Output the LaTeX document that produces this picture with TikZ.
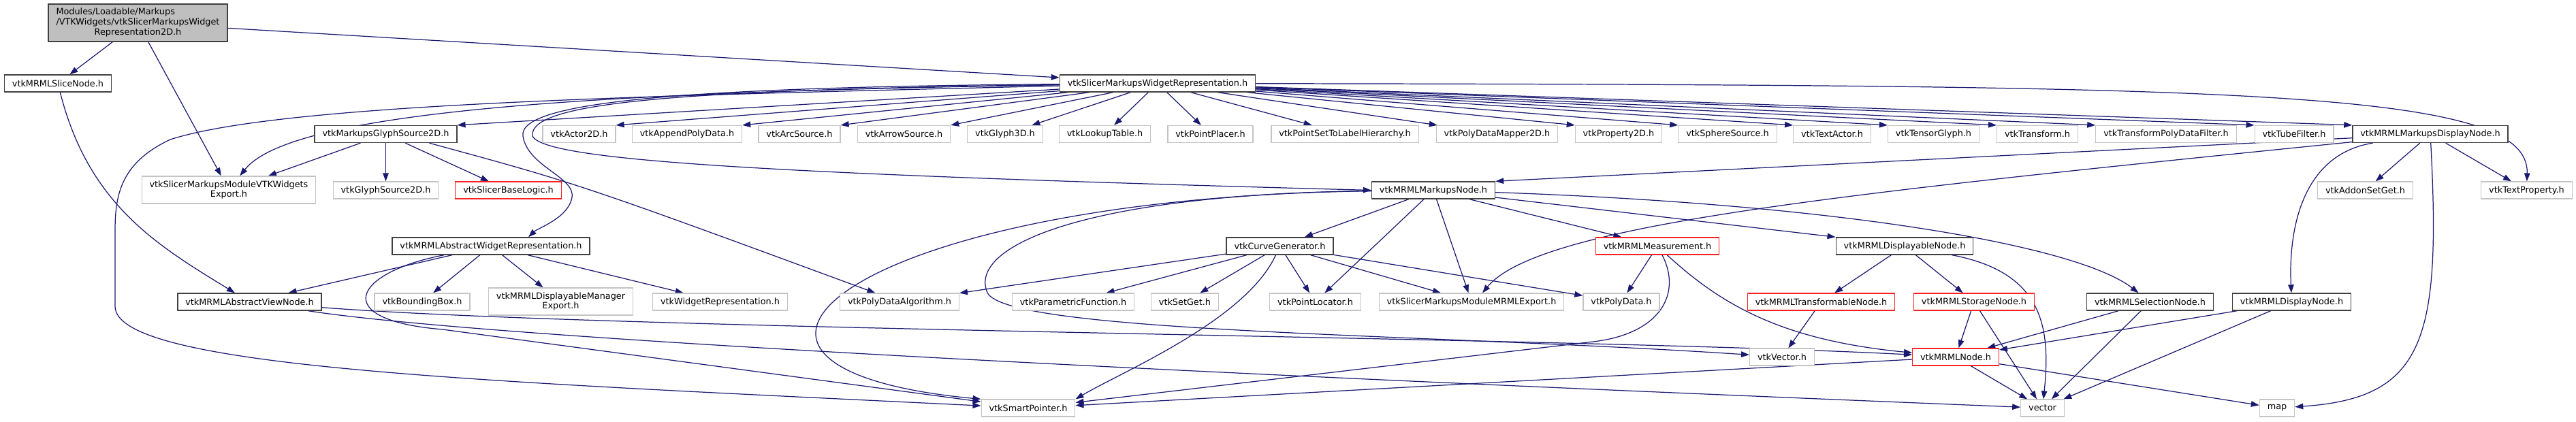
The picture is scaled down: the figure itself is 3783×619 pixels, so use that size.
\documentclass[tikz,border=0pt]{standalone}
\usepackage{fontspec}
\setmainfont{DejaVu Sans}
\usepackage{tikz}
\usetikzlibrary{arrows.meta,backgrounds}
\definecolor{edgeblue}{HTML}{191970}
\definecolor{rootgray}{HTML}{BFBFBF}
\definecolor{extgray}{HTML}{C4C4C4}
\definecolor{incred}{HTML}{FF2020}

\begin{document}
\begin{tikzpicture}[x=0.02cm, y=-0.02cm, font=\fontsize{7.3}{8.4}\selectfont,
  box/.style={fill=white, line width=0.7pt, inner xsep=6.5pt, inner ysep=0pt, minimum height=0.5cm, align=center},
  docbox/.style={box, draw=black!75, line width=0.8pt},
  extbox/.style={box, draw=extgray},
  redbox/.style={box, draw=incred},
  rootbox/.style={box, draw=black!75, line width=0.8pt, fill=rootgray, minimum height=1.1cm},
  inc/.style={draw=edgeblue, line width=0.7pt, -{Triangle[length=0.24cm, width=0.17cm]}}]
  \useasboundingbox (0,0) rectangle (3783,619);

  \node[rootbox] (root) at (202.5,33.5) {\begin{tabular}{@{}l@{}}Modules/Loadable/Markups\\/VTKWidgets/vtkSlicerMarkupsWidget\\\multicolumn{1}{@{}c@{}}{Representation2D.h}\end{tabular}};
  \node[docbox] (slice) at (85,122.5) {vtkMRMLSliceNode.h};
  \node[docbox] (smwr) at (1700,122.5) {vtkSlicerMarkupsWidgetRepresentation.h};

  % row of direct includes
  \node[docbox] (glyph2d) at (566.5,197) {vtkMarkupsGlyphSource2D.h};
  \foreach \n/\x/\t in {actor2d/850.5/vtkActor2D.h, append/1009/vtkAppendPolyData.h,
      arc/1174/vtkArcSource.h, arrow/1327.5/vtkArrowSource.h, glyph3d/1476/vtkGlyph3D.h,
      lut/1622.5/vtkLookupTable.h, placer/1777.5/vtkPointPlacer.h,
      pslh/1975/vtkPointSetToLabelHierarchy.h, pdm2d/2198.5/vtkPolyDataMapper2D.h,
      prop2d/2377/vtkProperty2D.h, sphere/2537/vtkSphereSource.h, textactor/2690.5/vtkTextActor.h,
      tensor/2839.5/vtkTensorGlyph.h, transform/2992/vtkTransform.h,
      tpdf/3181/vtkTransformPolyDataFilter.h, tube/3369/vtkTubeFilter.h}
    \node[extbox] (\n) at (\x,197) {\t};
  \node[docbox] (mdisp) at (3569,197) {vtkMRMLMarkupsDisplayNode.h};

  \node[extbox, minimum height=0.8cm] (vtkwexport) at (336,279) {vtkSlicerMarkupsModuleVTKWidgets\\Export.h};
  \node[extbox] (glyphsrc) at (566.5,279.5) {vtkGlyphSource2D.h};
  \node[redbox] (baselogic) at (746.5,279.5) {vtkSlicerBaseLogic.h};
  \node[docbox] (mnode) at (2105,279.5) {vtkMRMLMarkupsNode.h};
  \node[extbox] (addon) at (3473.5,279.5) {vtkAddonSetGet.h};
  \node[extbox] (textprop) at (3710.5,279.5) {vtkTextProperty.h};

  \node[docbox] (awr) at (721,361.5) {vtkMRMLAbstractWidgetRepresentation.h};
  \node[docbox] (curvegen) at (1879.5,361.5) {vtkCurveGenerator.h};
  \node[redbox] (measure) at (2434,361.5) {vtkMRMLMeasurement.h};
  \node[docbox] (dispable) at (2797,361.5) {vtkMRMLDisplayableNode.h};

  \node[docbox] (aview) at (366.5,443.5) {vtkMRMLAbstractViewNode.h};
  \node[extbox, minimum height=0.8cm] (dmexport) at (823.5,443) {vtkMRMLDisplayableManager\\Export.h};
  \foreach \n/\x/\t in {bbox/620/vtkBoundingBox.h, widgetrep/1057.5/vtkWidgetRepresentation.h,
      pda/1321/vtkPolyDataAlgorithm.h, paramfn/1576/vtkParametricFunction.h, setget/1740/vtkSetGet.h,
      plocator/1931.5/vtkPointLocator.h, mrmlexport/2161/vtkSlicerMarkupsModuleMRMLExport.h,
      polydata/2381/vtkPolyData.h}
    \node[extbox] (\n) at (\x,443.5) {\t};
  \node[redbox] (transformable) at (2674.5,443.5) {vtkMRMLTransformableNode.h};
  \node[redbox] (storage) at (2899,443.5) {vtkMRMLStorageNode.h};
  \node[docbox] (selection) at (3157.5,443.5) {vtkMRMLSelectionNode.h};
  \node[docbox] (dispnode) at (3365.5,443.5) {vtkMRMLDisplayNode.h};

  \node[extbox] (vector3) at (2617,524.5) {vtkVector.h};
  \node[redbox] (mrmlnode) at (2872,524.5) {vtkMRMLNode.h};

  \node[extbox] (sptr) at (1510,599.5) {vtkSmartPointer.h};
  \node[extbox] (stdvector) at (2999.5,599.5) {vector};
  \node[extbox] (map) at (3344,599.5) {map};

  \begin{scope}[on background layer]
    \foreach \u/\v in {root/slice, root/vtkwexport, root/smwr, glyph2d/vtkwexport, glyph2d/glyphsrc,
        glyph2d/baselogic, awr/aview, awr/bbox, awr/dmexport, awr/widgetrep,
        mnode/curvegen, mnode/plocator, mnode/mrmlexport, mnode/measure,
        curvegen/pda, curvegen/paramfn, curvegen/setget, curvegen/plocator, curvegen/mrmlexport,
        curvegen/polydata, measure/polydata, dispable/transformable, dispable/storage,
        transformable/vector3, storage/mrmlnode, storage/stdvector, selection/mrmlnode,
        selection/stdvector, dispnode/mrmlnode, dispnode/stdvector, mrmlnode/sptr,
        mrmlnode/stdvector, mrmlnode/map, mdisp/addon, mdisp/textprop,
        smwr/glyph3d, smwr/lut, smwr/placer, smwr/pslh, smwr/pdm2d}
      \draw[inc] (\u) -- (\v);
    \foreach \v/\a in {glyph2d/north east, actor2d/north east, append/north east, arc/north east,
        arrow/north east, prop2d/north west, sphere/north west, textactor/north west,
        tensor/north west, transform/north west, tpdf/north west, tube/north west, mdisp/north west}
      \draw[inc] (smwr) -- (\v.\a);
    \draw[inc] (mnode) -- (dispable.north west);
    \draw[inc] (mdisp) -- (mnode.north east);

    % curved ones
    \draw[inc] ([xshift=1.28cm]glyph2d.south) .. controls (850,270) .. (pda);
    \draw[inc] (slice) .. controls (130,300) and (230,360) .. (aview);
    \draw[inc] (smwr) .. controls (900,135) and (430,160) .. (vtkwexport);
    \draw[inc] (smwr) .. controls (1000,140) and (420,150) .. (250,205)
      .. controls (175,240) and (169,290) .. (169,340) -- (169,450)
      .. controls (169,540) and (700,560) .. (sptr);
    \draw[inc] (smwr) .. controls (1000,128) and (760,150) .. (768,200)
      .. controls (775,245) and (845,260) .. (840,290)
      .. controls (835,320) and (790,335) .. ([xshift=1.1cm]awr.north);
    \draw[inc] (smwr) .. controls (1000,132) and (775,150) .. (782,200)
      .. controls (800,235) and (1100,255) .. (mnode.west);
    \draw[inc] (smwr) .. controls (3300,125) and (3715,130) .. (textprop);
    \draw[inc] (mnode) .. controls (1250,290) and (950,540) .. (sptr.north west);
    \draw[inc] (mnode) .. controls (1600,285) and (1420,360) .. (1450,430)
      .. controls (1480,490) and (2100,490) .. (vector3);
    \draw[inc] (mnode) .. controls (2700,300) and (3050,360) .. (selection);
    \draw[inc] (aview) .. controls (900,485) and (2300,495) .. (mrmlnode);
    \draw[inc] (aview) .. controls (800,510) and (2400,575) .. (stdvector);
    \draw[inc] (awr) .. controls (520,400) and (480,470) .. (650,484) -- (sptr);
    \draw[inc] (curvegen) .. controls (1830,470) and (1650,545) .. (sptr.north east);
    \draw[inc] (measure) .. controls (2470,430) and (2440,490) .. (2340,502) -- (sptr);
    \draw[inc] (measure) .. controls (2530,450) and (2620,500) .. (mrmlnode);
    \draw[inc] (dispable) .. controls (3000,400) and (3012,480) .. (stdvector);
    \draw[inc] (mdisp) .. controls (2700,285) and (2260,330) .. ([xshift=0.32cm]mrmlexport.north);
    \draw[inc] (mdisp) .. controls (3390,225) and (3360,320) .. (dispnode);
    \draw[inc] (mdisp) .. controls (3585,500) and (3560,585) .. (map);
  \end{scope}
\end{tikzpicture}
\end{document}
